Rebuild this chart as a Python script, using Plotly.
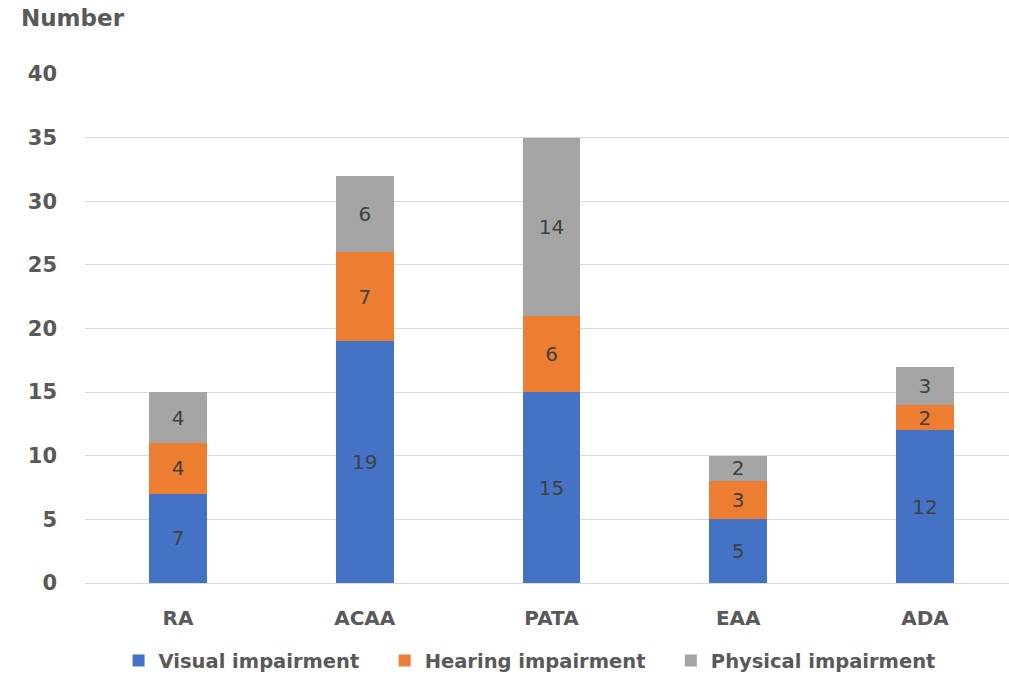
import plotly.graph_objects as go

categories = ["RA", "ACAA", "PATA", "EAA", "ADA"]
visual = [7, 19, 15, 5, 12]
hearing = [4, 7, 6, 3, 2]
physical = [4, 6, 14, 2, 3]
series_names = ["Visual impairment", "Hearing impairment", "Physical impairment"]
colors = ["#4472C4", "#ED7D31", "#A5A5A5"]
y_ticks = [0, 5, 10, 15, 20, 25, 30, 35, 40]

FONT = "DejaVu Sans"
PAD = "\u00a0\u00a0\u00a0"
fig = go.Figure()
for name, vals, col in zip(series_names, [visual, hearing, physical], colors):
    fig.add_trace(go.Bar(
        x=categories, y=vals, name=name + PAD, marker=dict(color=col, line=dict(width=0)),
        text=[str(v) for v in vals], textposition="inside", insidetextanchor="middle",
        textangle=0, textfont=dict(family=FONT, size=20, color="#404040"), constraintext="none",
    ))

fig.update_layout(
    barmode="stack", bargap=0.69,
    width=1009, height=677,
    margin=dict(l=85, r=0, t=74, b=94),
    paper_bgcolor="white", plot_bgcolor="white",
    font=dict(family=FONT, color="#595959"),
    uniformtext=dict(mode=False),
    xaxis=dict(range=[-0.498, 4.45], showgrid=False, showline=False, zeroline=False,
               tickfont=dict(family=FONT, size=20, color="#595959", weight="bold"),
               ticks="", ticklabelstandoff=21, automargin=False),
    yaxis=dict(range=[0, 40], tickvals=y_ticks, showgrid=True, gridcolor="#D9D9D9", gridwidth=1,
               zeroline=True, zerolinecolor="#D9D9D9", zerolinewidth=1,
               tickfont=dict(family=FONT, size=21, color="#595959", weight="bold"),
               ticks="", ticklabelstandoff=27, automargin=False),
    legend=dict(orientation="h", x=0.4925, xanchor="center", yref="container", y=0.024, yanchor="middle",
                font=dict(family=FONT, size=19.5, color="#595959", weight="bold"),
                traceorder="normal", itemwidth=30),
    annotations=[dict(text="<b>Number</b>", xref="paper", yref="paper", x=-0.0715, y=1.111,
                      xanchor="left", yanchor="middle", showarrow=False,
                      font=dict(family=FONT, size=23, color="#595959"))],
)

fig.write_html("out.html")
